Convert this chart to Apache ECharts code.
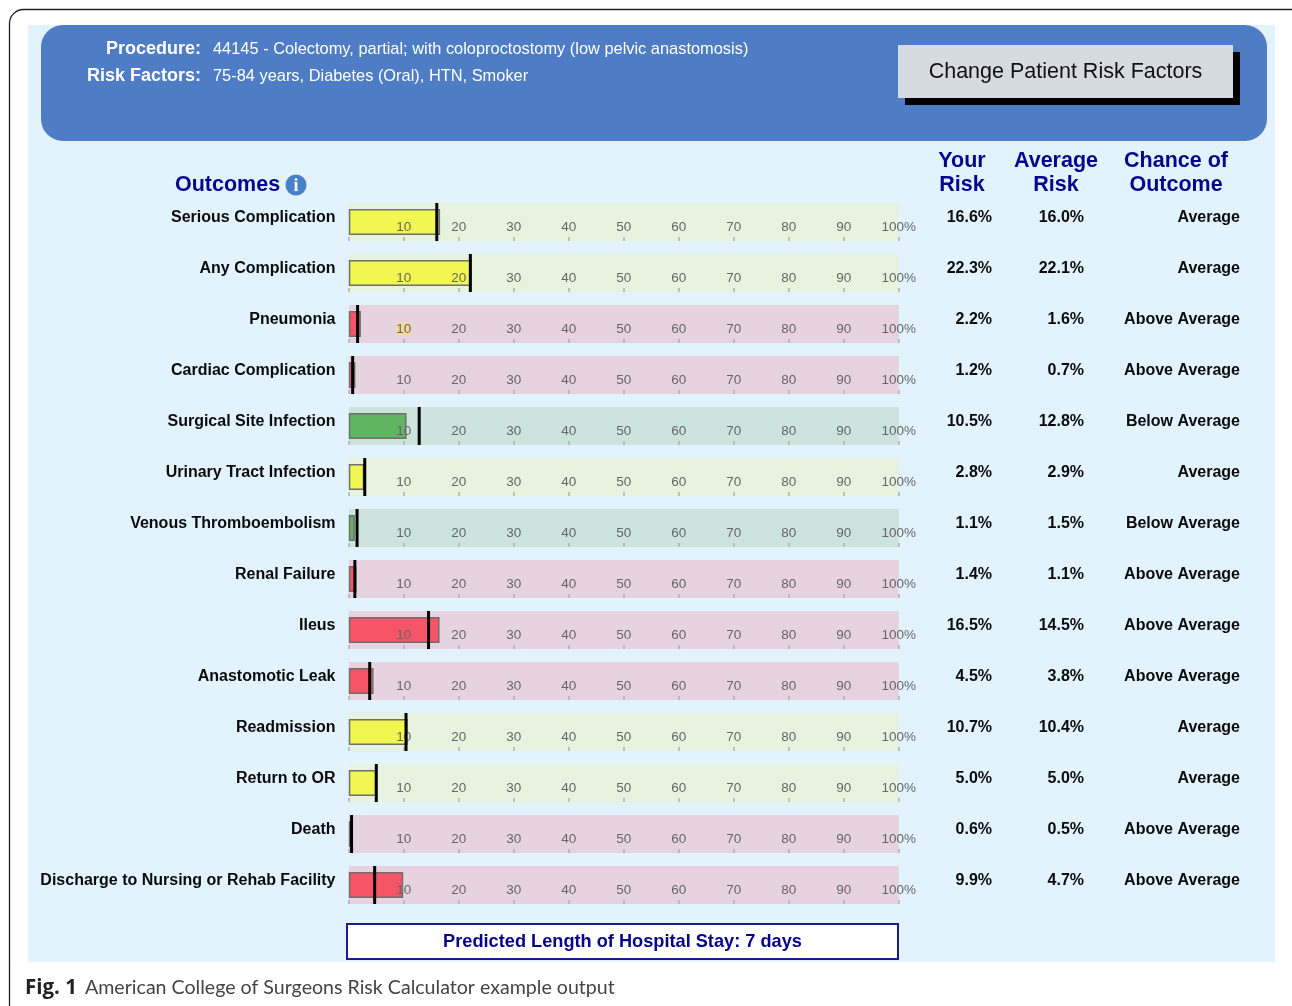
<!DOCTYPE html>
<html>
<head>
<meta charset="utf-8">
<style>html,body{margin:0;padding:0;background:#fff}#c{width:1292px;height:1006px}</style>
<script src="https://cdn.jsdelivr.net/npm/echarts@6/dist/echarts.min.js"></script>
</head>
<body>
<div id="c"></div>
<script>
const outcomes = ['Serious Complication','Any Complication','Pneumonia','Cardiac Complication','Surgical Site Infection','Urinary Tract Infection','Venous Thromboembolism','Renal Failure','Ileus','Anastomotic Leak','Readmission','Return to OR','Death','Discharge to Nursing or Rehab Facility'];
const yourRisk = [16.6,22.3,2.2,1.2,10.5,2.8,1.1,1.4,16.5,4.5,10.7,5.0,0.6,9.9];
const averageRisk = [16.0,22.1,1.6,0.7,12.8,2.9,1.5,1.1,14.5,3.8,10.4,5.0,0.5,4.7];
const chance = ['Average','Average','Above Average','Above Average','Below Average','Average','Below Average','Above Average','Above Average','Above Average','Average','Average','Above Average','Above Average'];
const tickLabels = ['10','20','30','40','50','60','70','80','90','100%'];
const highlightedRow = 'Pneumonia';

const SANS = '"Liberation Sans", Arial, sans-serif';
const NAVY = '#05058c';
const chanceStyle = {
  'Average': {bg:'#e7f3de', bar:'#f1f650'},
  'Above Average': {bg:'#e7d3df', bar:'#f55566'},
  'Below Average': {bg:'#cce4dd', bar:'#62b560'}
};
const rowTop = i => 203 + 51 * i;

const grid = [], xAxis = [], yAxis = [], series = [];
outcomes.forEach((name, i) => {
  const st = chanceStyle[chance[i]];
  grid.push({left:348.8, width:550, top:rowTop(i), height:38, show:true, backgroundColor:st.bg, borderWidth:0, containLabel:false});
  xAxis.push({
    type:'value', gridIndex:i, min:0, max:100, interval:10, position:'bottom', z:3,
    splitLine:{show:false}, axisLine:{show:false},
    axisTick:{show:true, inside:true, length:4, lineStyle:{color:'#b0b0b0', width:1.5}},
    axisLabel:{
      inside:true, margin:7, color:'#666', fontSize:13.5, fontFamily:SANS, hideOverlap:false,
      formatter:v => {
        if (v === 0) return '';
        const t = tickLabels[v / 10 - 1];
        return name === highlightedRow && v === 10 ? '{h|' + t + '}' : t;
      },
      rich:{h:{backgroundColor:'#f4d9a0', color:'#666', fontSize:13.5, fontFamily:SANS}}
    }
  });
  yAxis.push({
    type:'category', gridIndex:i, data:[name],
    axisLine:{show:false}, axisTick:{show:false}, splitLine:{show:false},
    axisLabel:{margin:13.3, color:'#0a0a0a', fontSize:16, fontWeight:'bold', fontFamily:SANS, verticalAlign:'bottom', lineHeight:8}
  });
  series.push({
    type:'bar', name:'Your Risk', xAxisIndex:i, yAxisIndex:i, barWidth:26, z:2, silent:true,
    data:[yourRisk[i]],
    itemStyle:{color:st.bar, borderColor:'#6f6f6f', borderWidth:1.5}
  });
  series.push({
    type:'scatter', name:'Average Risk', xAxisIndex:i, yAxisIndex:i, z:4, silent:true, clip:false,
    symbol:'rect', symbolSize:[3,38],
    data:[[averageRisk[i], 0]],
    itemStyle:{color:'#000', opacity:1}
  });
});

const txt = (x, y, text, o) => ({type:'text', x, y, z:o.z || 5, silent:true, style:Object.assign({
  text, fontFamily:SANS, fill:'#000', align:'left', verticalAlign:'middle'}, o.style || o)});
const bold = (size, fill, align) => ({fontSize:size, fontWeight:'bold', fill, align:align || 'left'});

const elements = [
  {type:'rect', z:-20, silent:true, shape:{x:9.5,y:9.5,width:1300,height:1010,r:14}, style:{fill:'#fff',stroke:'#222',lineWidth:1.3}},
  {type:'rect', z:-19, silent:true, shape:{x:28,y:25,width:1247,height:937}, style:{fill:'#e2f3fe'}},
  {type:'rect', z:-18, silent:true, shape:{x:41,y:25,width:1226,height:116,r:22}, style:{fill:'#4e7dc6'}},
  {type:'rect', z:-17, silent:true, shape:{x:905,y:52,width:335,height:53}, style:{fill:'#000'}},
  {type:'rect', z:-16, silent:true, shape:{x:898,y:45,width:335,height:53}, style:{fill:'#d5dbe0'}},
  txt(1065.5, 72.5, 'Change Patient Risk Factors', {fontSize:21.5, fill:'#111', align:'center'}),
  txt(201, 49, 'Procedure:', bold(18, '#fff', 'right')),
  txt(201, 76, 'Risk Factors:', bold(18, '#fff', 'right')),
  txt(213, 49.5, '44145 - Colectomy, partial; with coloproctostomy (low pelvic anastomosis)', {fontSize:16.4, fill:'#fff'}),
  txt(213, 76.5, '75-84 years, Diabetes (Oral), HTN, Smoker', {fontSize:16.4, fill:'#fff'}),
  txt(175, 185, 'Outcomes', bold(21.5, NAVY)),
  {type:'circle', z:5, silent:true, shape:{cx:296,cy:185,r:10.5}, style:{fill:'#4a80c8'}},
  txt(296, 186, 'i', {fontSize:18, fontWeight:'bold', fill:'#fff', align:'center', fontFamily:'"Liberation Serif", serif'}),
  txt(962, 161, 'Your', bold(21.5, NAVY, 'center')),
  txt(962, 185, 'Risk', bold(21.5, NAVY, 'center')),
  txt(1056, 161, 'Average', bold(21.5, NAVY, 'center')),
  txt(1056, 185, 'Risk', bold(21.5, NAVY, 'center')),
  txt(1176, 161, 'Chance of', bold(21.5, NAVY, 'center')),
  txt(1176, 185, 'Outcome', bold(21.5, NAVY, 'center')),
  {type:'rect', z:-15, silent:true, shape:{x:347,y:924,width:551,height:35}, style:{fill:'#fff',stroke:'#1b1b8f',lineWidth:2}},
  txt(622.5, 942, 'Predicted Length of Hospital Stay: 7 days', bold(18.2, NAVY, 'center')),
  txt(25, 988, 'Fig. 1', {fontSize:20.5, fontWeight:'bold', fill:'#222', fontFamily:'"Open Sans", sans-serif'}),
  txt(85, 988, 'American College of Surgeons Risk Calculator example output', {fontSize:19.6, fill:'#444', fontFamily:'Lato, sans-serif'})
];
outcomes.forEach((name, i) => {
  const y = rowTop(i) + 15;
  elements.push(txt(992, y, yourRisk[i].toFixed(1) + '%', bold(16, '#0a0a0a', 'right')));
  elements.push(txt(1084, y, averageRisk[i].toFixed(1) + '%', bold(16, '#0a0a0a', 'right')));
  elements.push(txt(1240, y, chance[i], bold(16, '#0a0a0a', 'right')));
});

const chart = echarts.init(document.getElementById('c'), null, {renderer:'canvas'});
chart.setOption({animation:false, tooltip:{show:false}, grid, xAxis, yAxis, series, graphic:{elements}});
</script>
</body>
</html>
